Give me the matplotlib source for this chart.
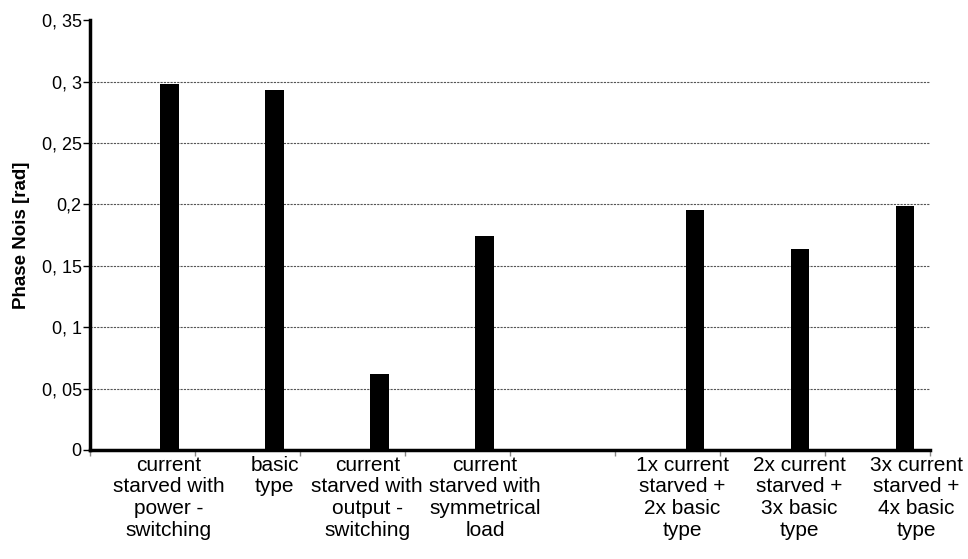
import matplotlib.pyplot as plt
import numpy as np

plt.rcParams['font.family'] = ['Liberation Sans', 'DejaVu Sans']

# chart data
categories = ["current\nstarved with\npower -\nswitching",
              "basic\ntype",
              "current\nstarved with\noutput -\nswitching",
              "current\nstarved with\nsymmetrical\nload",
              "",
              "1x current\nstarved +\n2x basic\ntype",
              "2x current\nstarved +\n3x basic\ntype",
              "3x current\nstarved +\n4x basic\ntype"]
phase_noise = [0.298, 0.293, 0.0615, 0.1745, 0.0, 0.195, 0.164, 0.199]
y_ticks = [0, 0.05, 0.1, 0.15, 0.2, 0.25, 0.3, 0.35]
y_tick_labels = ["0", "0, 05", "0, 1", "0, 15", "0,2", "0, 25", "0, 3", "0, 35"]

fig = plt.figure(figsize=(9.68, 5.59), dpi=100)
ax = fig.add_axes([0.093, 0.195, 0.868, 0.769])

slots = np.arange(len(categories))
bar_x = slots + 0.76
ax.bar(bar_x, phase_noise, width=0.18, color='black', zorder=3)

ax.set_xlim(0, len(categories))
ax.set_ylim(0, 0.35)

# labels under bars (nudged a little so they don't collide), tick marks at slot boundaries
label_shift = np.array([-0.01, 0, -0.12, 0.0, 0, -0.12, -0.01, 0.11])
ax.set_xticks(bar_x + label_shift)
ax.set_xticklabels(categories, fontsize=15, linespacing=1.18)
ax.tick_params(axis='x', which='major', length=0, pad=4)
ax.set_xticks(np.arange(len(categories) + 1), minor=True)
ax.tick_params(axis='x', which='minor', length=4, width=1, color='#888888')

ax.set_yticks(y_ticks)
ax.set_yticklabels(y_tick_labels, fontsize=13)
ax.tick_params(axis='y', length=5, width=1, pad=1)

for v in y_ticks[1:-1]:
    ax.axhline(v, color='#555555', linestyle=(0, (2, 1)), linewidth=0.8, zorder=1)

ax.spines['top'].set_visible(False)
ax.spines['right'].set_visible(False)
ax.spines['left'].set_linewidth(2.5)
ax.spines['bottom'].set_linewidth(2.5)

ax.set_ylabel("Phase Nois [rad]", fontsize=13.5, fontweight='bold', labelpad=8)

fig.savefig('out.png', dpi=100)
